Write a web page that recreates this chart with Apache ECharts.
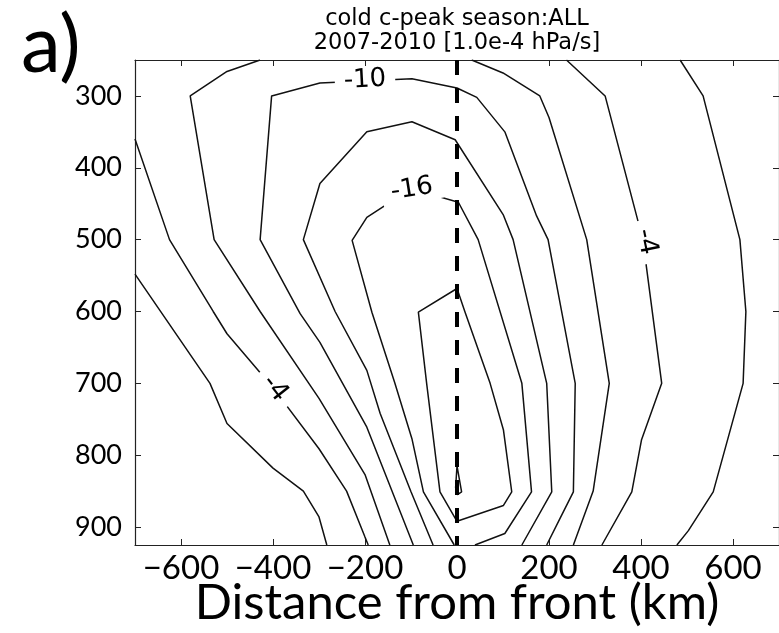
<!DOCTYPE html>
<html>
<head>
<meta charset="utf-8">
<script src="https://cdn.jsdelivr.net/npm/echarts@6/dist/echarts.min.js"></script>
<style>
  html, body { margin: 0; padding: 0; background: #fff; }
  #chart { width: 779px; height: 633px; }
</style>
</head>
<body>
<div id="chart"></div>
<script>
// ---- tick values ----
const xTicks = [-600, -400, -200, 0, 200, 400, 600];
const pTicks = [300, 400, 500, 600, 700, 800, 900];

// ---- contour lines: [distance km, pressure hPa] ----
const cMinus1Left  = [[-700,548],[-537,700],[-500,756],[-400,818],[-334,850],[-300,886],[-283,925]];
const cMinus1Right = [[485,250],[535,300],[615,500],[628,600],[622,700],[557,851],[503,905],[478,925]];
const cMinus4Left  = [[-700,360],[-625,500],[-530,600],[-500,631],[-400,706],[-300,791],[-240,850],[-200,914],[-193,925]];
const cMinus4Right = [[238,250],[322,300],[404,500],[445,700],[401,779],[380,851],[315,925]];
const cMinus7Left  = [[-428,250],[-500,266],[-580,300],[-528,500],[-428,600],[-300,721],[-200,827],[-146,925]];
const cMinus7Right = [[32,250],[100,268],[180,300],[200,330],[282,500],[331,700],[296,850],[253,925]];
const cMinus10 = [[-95,925],[-196,761],[-298,643],[-341,603],[-428,500],[-403,300],[-298,282],[-98,276],[0,289],[43,302],[104,350],[173,467],[198,500],[257,700],[253,851],[224,888],[195,925]];
const cMinus13 = [[-52,925],[-100,851],[-167,742],[-196,682],[-265,600],[-334,500],[-298,422],[-196,350],[-98,336],[-4,361],[101,466],[122,500],[195,700],[206,851],[141,925]];
const cMinus16 = [[-6,925],[-73,851],[-98,777],[-135,700],[-185,601],[-228,501],[-196,469],[-100,429],[3,448],[46,500],[141,700],[162,851],[104,909],[39,925]];
const cMinus19 = [[0,568],[-84,601],[-66,700],[-37,851],[0,892],[101,870],[119,851],[101,765],[72,700],[17,600],[0,568]];
const cMinus22 = [[0,815],[10,851],[1,855],[-3,845],[0,815]];
const frontLine = [[0,250],[0,925]];

// ---- contour labels ----
const labelText = ['-10', '-16', '-4', '-4'];
const labelPos  = [[-200,278], [-98,430], [-396,707], [411,503]];
const labelRot  = [3, 9, -52, -78];

const contours = [cMinus1Left, cMinus1Right, cMinus4Left, cMinus4Right, cMinus7Left, cMinus7Right,
                  cMinus10, cMinus13, cMinus16, cMinus19, cMinus22];

const chart = echarts.init(document.getElementById('chart'), null, { renderer: 'canvas' });

const axisColor = '#222';
const fmtX = v => (v < 0 ? '\u2212' + (-v) : String(v));

const series = contours.map(c => ({
  type: 'line', data: c, symbol: 'none', silent: true, z: 2,
  lineStyle: { color: '#111', width: 1.5 }
}));
series.push({
  type: 'custom', silent: true, z: 4,
  data: labelPos.map((p, i) => [p[0], p[1], i]),
  renderItem: function (params, api) {
    const i = api.value(2);
    const pt = api.coord([api.value(0), api.value(1)]);
    return {
      type: 'text', x: pt[0], y: pt[1], rotation: labelRot[i] * Math.PI / 180, z2: 10,
      style: {
        text: labelText[i], fill: '#000', font: '26px "DejaVu Sans"',
        align: 'center', verticalAlign: 'middle',
        backgroundColor: '#fff', padding: [0, 9]
      }
    };
  }
});
series.push({
  type: 'line', data: frontLine, symbol: 'none', silent: true, z: 6,
  lineStyle: { color: '#000', width: 4, type: [15, 13] }
});

const option = {
  animation: false,
  backgroundColor: '#fff',
  grid: { left: 135, right: 0, top: 60, bottom: 88, containLabel: false, outerBoundsMode: 'none' },
  xAxis: [{
    type: 'value', min: -700, max: 700, position: 'bottom',
    axisLine: { show: true, onZero: false, lineStyle: { color: axisColor, width: 1.2 } },
    axisTick: { show: true, inside: true, length: 6, customValues: xTicks, lineStyle: { color: axisColor } },
    axisLabel: { customValues: xTicks, formatter: fmtX, fontFamily: 'Lato', fontSize: 33, color: '#000', margin: 7 },
    splitLine: { show: false },
    name: 'Distance from front (km)', nameLocation: 'middle', nameGap: 34, nameMoveOverlap: false,
    nameTextStyle: { fontFamily: 'Lato', fontSize: 49, color: '#000' }
  }, {
    type: 'value', min: -700, max: 700, position: 'top',
    axisLine: { show: true, onZero: false, lineStyle: { color: axisColor, width: 1.2 } },
    axisTick: { show: true, inside: true, length: 6, customValues: xTicks, lineStyle: { color: axisColor } },
    axisLabel: { show: false }, splitLine: { show: false }
  }],
  yAxis: [{
    type: 'value', min: 250, max: 925, inverse: true, position: 'left',
    axisLine: { show: true, onZero: false, lineStyle: { color: axisColor, width: 1.2 } },
    axisTick: { show: true, inside: true, length: 6, customValues: pTicks, lineStyle: { color: axisColor } },
    axisLabel: { customValues: pTicks, fontFamily: 'Lato', fontSize: 27, color: '#000', margin: 13 },
    splitLine: { show: false }
  }, {
    type: 'value', min: 250, max: 925, inverse: true, position: 'right',
    axisLine: { show: true, onZero: false, lineStyle: { color: axisColor, width: 1.2 } },
    axisTick: { show: true, inside: true, length: 6, customValues: pTicks, lineStyle: { color: axisColor } },
    axisLabel: { show: false }, splitLine: { show: false }
  }],
  graphic: [
    { type: 'text', x: 457, y: 19, silent: true,
      style: { text: 'cold c-peak season:ALL', font: '22.5px "DejaVu Sans"', fill: '#000', textAlign: 'center', textVerticalAlign: 'middle' } },
    { type: 'text', x: 457, y: 43, silent: true,
      style: { text: '2007-2010 [1.0e-4 hPa/s]', font: '22.5px "DejaVu Sans"', fill: '#000', textAlign: 'center', textVerticalAlign: 'middle' } },
    { type: 'text', x: 21, y: 46, silent: true,
      style: { text: 'a)', font: '80px Lato', fill: '#000', textAlign: 'left', textVerticalAlign: 'middle' } }
  ],
  series: series
};
chart.setOption(option);
</script>
</body>
</html>
